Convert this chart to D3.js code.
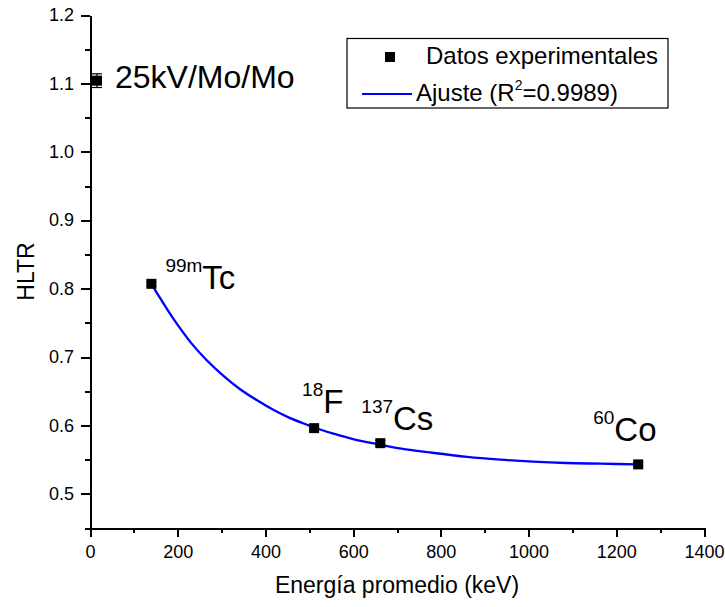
<!DOCTYPE html>
<html>
<head>
<meta charset="utf-8">
<script src="https://cdn.jsdelivr.net/npm/d3@7"></script>
<style>
  html, body { margin: 0; padding: 0; background: #fff; }
  svg { display: block; font-family: "Liberation Sans", Arial, sans-serif; }
</style>
</head>
<body>
<svg id="chart" width="725" height="607"></svg>
<script>
// ---------- data ----------
const sources = ["25kV/Mo/Mo", "99mTc", "18F", "137Cs", "60Co"];
const labelSup = ["", "99m", "18", "137", "60"];
const labelMain = ["25kV/Mo/Mo", "Tc", "F", "Cs", "Co"];
const energy = [16, 140, 511, 662, 1250];
const hltr = [1.104, 0.807, 0.596, 0.574, 0.543];
const hltrErr = [0.010, 0.003, 0.003, 0.004, 0.003];

// fitted curve
const fitEnergy = [140, 160, 190, 230, 265, 305, 340, 380, 420, 455, 495, 525, 555, 600, 660, 710, 780, 860, 935, 1010, 1085, 1165, 1250];
const fitHltr   = [0.807, 0.786, 0.756, 0.721, 0.696, 0.672, 0.654, 0.637, 0.622, 0.611, 0.601, 0.594, 0.588, 0.580, 0.572, 0.566, 0.560, 0.554, 0.550, 0.547, 0.545, 0.544, 0.543];

const xTicks = [0, 200, 400, 600, 800, 1000, 1200, 1400];
const xMinor = [100, 300, 500, 700, 900, 1100, 1300];
const yTicks = [0.5, 0.6, 0.7, 0.8, 0.9, 1.0, 1.1, 1.2];
const yMinor = [0.45, 0.55, 0.65, 0.75, 0.85, 0.95, 1.05, 1.15];

const legendLabels = ["Datos experimentales", "Ajuste (R", "2", "=0.9989)"];

// ---------- layout ----------
const L = { left: 90, right: 704, top: 15, bottom: 528 };
const svg = d3.select("#chart");
const x = d3.scaleLinear().domain([0, 1400]).range([L.left, L.right]);
const y = d3.scaleLinear().domain([0.45, 1.2]).range([L.bottom, L.top]);

// label offsets (pixels relative to point)
const labelOffset = [[18, 7], [14, 5], [-12, -15], [-19, -13], [-45, -23]];

// ---------- axes ----------
const axisStroke = 2;
function styleAxis(g) {
  g.selectAll("path.domain").attr("stroke", "#000").attr("stroke-width", axisStroke)
    .attr("shape-rendering", "crispEdges");
  g.selectAll(".tick line").attr("stroke", "#000").attr("stroke-width", axisStroke)
    .attr("shape-rendering", "crispEdges");
  g.selectAll(".tick text").attr("fill", "#000").attr("font-size", 18)
    .attr("font-family", "Liberation Sans, Arial, sans-serif");
}

const gxMinor = svg.append("g").attr("transform", `translate(0,${L.bottom})`)
  .call(d3.axisBottom(x).tickValues(xMinor).tickSize(5).tickSizeOuter(0).tickFormat(""));
gxMinor.select("path.domain").remove();
styleAxis(gxMinor);

const gyMinor = svg.append("g").attr("transform", `translate(${L.left},0)`)
  .call(d3.axisLeft(y).tickValues(yMinor).tickSize(5).tickSizeOuter(0).tickFormat(""));
gyMinor.select("path.domain").remove();
styleAxis(gyMinor);

const gx = svg.append("g").attr("transform", `translate(0,${L.bottom})`)
  .call(d3.axisBottom(x).tickValues(xTicks).tickSize(9).tickSizeOuter(0).tickPadding(8).tickFormat(d3.format("d")));
styleAxis(gx);

const gy = svg.append("g").attr("transform", `translate(${L.left},0)`)
  .call(d3.axisLeft(y).tickValues(yTicks).tickSize(9).tickSizeOuter(0).tickPadding(7).tickFormat(d3.format(".1f")));
styleAxis(gy);

// axis titles
svg.append("text")
  .attr("x", (L.left + L.right) / 2).attr("y", 593)
  .attr("text-anchor", "middle").attr("font-size", 23).attr("fill", "#000")
  .text("Energía promedio (keV)");
svg.append("text")
  .attr("transform", `translate(34,${(L.top + L.bottom) / 2}) rotate(-90)`)
  .attr("text-anchor", "middle").attr("font-size", 23).attr("fill", "#000")
  .text("HLTR");

// ---------- fit line ----------
const fitData = fitEnergy.map((e, i) => [e, fitHltr[i]]);
svg.append("path")
  .datum(fitData)
  .attr("fill", "none").attr("stroke", "#0000ff").attr("stroke-width", 2.3)
  .attr("d", d3.line().x(d => x(d[0])).y(d => y(d[1])).curve(d3.curveCatmullRom.alpha(0.5)));

// ---------- points with error bars ----------
const pts = energy.map((e, i) => ({ e, v: hltr[i], err: hltrErr[i], i }));
const pg = svg.append("g");
pts.forEach(p => {
  const cx = x(p.e), y1 = y(p.v + p.err), y2 = y(p.v - p.err);
  pg.append("line").attr("x1", cx).attr("x2", cx).attr("y1", y1).attr("y2", y2)
    .attr("stroke", "#000").attr("stroke-width", 1.2);
  [y1, y2].forEach(yy => pg.append("line").attr("x1", cx - 5).attr("x2", cx + 5)
    .attr("y1", yy).attr("y2", yy).attr("stroke", "#000").attr("stroke-width", 1.2));
  pg.append("rect").attr("x", cx - 5).attr("y", y(p.v) - 5).attr("width", 10).attr("height", 10)
    .attr("fill", "#000");
});

// ---------- point labels ----------
pts.forEach(p => {
  const [dx, dy] = labelOffset[p.i];
  const bx = x(p.e) + dx, by = y(p.v) + dy;
  const t = svg.append("text").attr("x", bx).attr("y", by).attr("fill", "#000");
  if (labelSup[p.i]) {
    t.append("tspan").attr("font-size", 19).attr("dy", -17).text(labelSup[p.i]);
    t.append("tspan").attr("font-size", 33).attr("dy", 17).text(labelMain[p.i]);
  } else {
    t.append("tspan").attr("font-size", 32).text(labelMain[p.i]);
  }
});

// ---------- legend ----------
const lg = svg.append("g");
lg.append("rect").attr("x", 347).attr("y", 38.5).attr("width", 321).attr("height", 69.5)
  .attr("fill", "#fff").attr("stroke", "#000").attr("stroke-width", 1.2);
lg.append("rect").attr("x", 385).attr("y", 52).attr("width", 10).attr("height", 10).attr("fill", "#000");
lg.append("text").attr("x", 426).attr("y", 64).attr("font-size", 24).attr("fill", "#000").text(legendLabels[0]);
lg.append("line").attr("x1", 362).attr("x2", 412).attr("y1", 94).attr("y2", 94)
  .attr("stroke", "#0000ff").attr("stroke-width", 2);
const lt = lg.append("text").attr("x", 416).attr("y", 101).attr("font-size", 24).attr("fill", "#000");
lt.append("tspan").text(legendLabels[1]);
lt.append("tspan").attr("font-size", 14).attr("dy", -11).text(legendLabels[2]);
lt.append("tspan").attr("dy", 11).text(legendLabels[3]);
</script>
</body>
</html>
